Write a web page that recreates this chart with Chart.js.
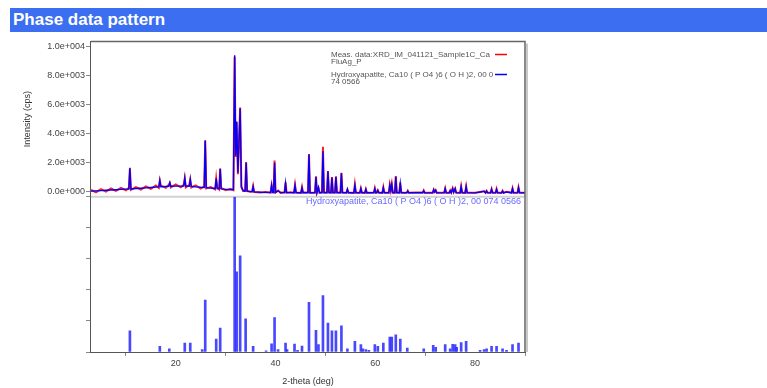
<!DOCTYPE html>
<html>
<head>
<meta charset="utf-8">
<script src="https://cdn.jsdelivr.net/npm/chart.js@4.4.0/dist/chart.umd.min.js"></script>
<style>
  body { margin: 0; background: #fff; font-family: "Liberation Sans", Arial, sans-serif; }
  #wrap { position: relative; width: 767px; height: 388px; overflow: hidden; }
  #title { position: absolute; left: 10px; top: 8px; right: 0; height: 24px; background: #3b6ef1;
           color: #fff; font-weight: bold; font-size: 17px; line-height: 24px; padding-left: 3px; }
  canvas { position: absolute; left: 0; top: 0; }
</style>
</head>
<body>
<div id="wrap">
  <canvas id="xrd" width="767" height="388"></canvas>
  <div id="title">Phase data pattern</div>
</div>
<script>
const profileTheta = [
  3.0, 4.0, 5.0, 6.0, 7.0, 8.0, 9.0, 10.0, 10.6, 10.8,
  11.0, 12.0, 13.0, 14.0, 15.0, 16.0, 16.6, 16.8, 17.0, 18.0,
  18.6, 18.8, 19.0, 20.0, 21.0, 21.6, 21.8, 22.0, 22.7, 22.9,
  23.1, 24.0, 25.0, 25.7, 25.9, 26.1, 27.0, 27.9, 28.1, 28.3,
  28.7, 28.9, 29.1, 30.0, 31.0, 31.55, 31.8, 32.0, 32.2, 32.45,
  32.9, 33.15, 33.5, 33.9, 34.1, 34.3, 35.0, 35.3, 35.5, 35.7,
  37.0, 38.0, 39.0, 39.2, 39.4, 39.6, 39.8, 40.0, 40.5, 41.0,
  41.8, 42.0, 42.2, 43.0, 43.7, 43.9, 44.1, 45.1, 45.3, 45.5,
  46.5, 46.7, 46.9, 47.9, 48.1, 48.3, 48.6, 48.8, 49.3, 49.5,
  49.7, 50.3, 50.5, 50.7, 51.1, 51.3, 51.5, 51.9, 52.1, 52.3,
  53.0, 53.2, 53.4, 54.2, 54.4, 54.6, 55.7, 55.9, 56.1, 56.9,
  57.1, 57.3, 57.9, 58.1, 58.3, 59.7, 59.9, 60.1, 60.3, 60.5,
  60.7, 61.4, 61.6, 61.8, 62.7, 62.9, 63.1, 63.3, 63.5, 63.9,
  64.1, 64.3, 64.8, 65.0, 65.2, 66.3, 66.5, 66.7, 68.0, 69.5,
  69.7, 69.9, 71.5, 71.7, 71.9, 72.1, 72.3, 73.8, 74.0, 74.2,
  74.8, 75.0, 75.2, 75.5, 75.7, 76.0, 76.2, 77.0, 77.2, 77.4,
  78.0, 78.2, 78.4, 80.0, 81.0, 81.8, 82.1, 82.3, 82.5, 83.1,
  83.3, 83.5, 84.1, 84.3, 84.5, 85.3, 85.5, 85.7, 86.3, 87.3,
  87.5, 87.7, 88.5, 88.7, 88.9, 90.0
];
const measCounts = [
  130, -40, 170, 0, 220, 50, 260, 100, 260, 1600,
  120, 320, 150, 370, 200, 420, 260, 760, 420, 260,
  480, 600, 290, 500, 300, 470, 920, 290, 460, 830,
  280, 430, 220, 370, 3500, 220, 320, 160, 900, 280,
  150, 1600, 250, 100, 200, 100, 9300, 2400, 4800, 1200,
  5800, 300, 60, 80, 2050, 40, 0, 20, 380, -20,
  -60, -20, -70, 420, -30, -40, 2150, -50, 80, -80,
  -40, 650, -70, -40, -70, 460, -50, -80, 300, -60,
  -40, 2600, -70, -60, 1050, -40, 250, -60, -40, 3090,
  -50, -60, 1400, -40, -60, 1000, -50, -60, 1050, -50,
  -60, 1300, -50, -70, 150, -60, -80, 500, -60, -70,
  230, -60, -80, 170, -70, -60, 240, -70, -50, 100,
  -60, -80, 300, -60, -70, 480, 100, 520, -60, -70,
  1080, -50, -70, 620, -60, -80, 60, -70, -50, -60,
  80, -80, -70, 150, 0, 100, -70, -60, 230, -70,
  -80, 80, -60, 230, -20, 210, -60, -70, 370, -60,
  -80, 360, -60, -70, -20, 40, -70, 60, -60, -70,
  180, -60, -70, 190, -60, -80, 60, -70, 0, -60,
  230, -70, -60, 300, -60, -70
];
const calcCounts = [
  40, 55, 75, 95, 115, 135, 155, 175, 185, 1650,
  190, 215, 240, 265, 290, 315, 330, 780, 335, 355,
  365, 625, 370, 380, 380, 380, 940, 378, 372, 850,
  370, 330, 300, 285, 3540, 280, 245, 215, 920, 210,
  195, 1580, 190, 160, 130, 150, 9410, 2500, 4840, 1300,
  5750, 350, 60, 40, 1990, 30, 0, -10, 350, -15,
  -40, -50, -55, 440, -55, -55, 1990, -60, 60, -65,
  -65, 600, -65, -68, -70, 440, -70, -70, 280, -72,
  -72, 2560, -72, -73, 1030, -73, 300, -74, -74, 2790,
  -74, -74, 1420, -75, -75, 965, -75, -75, 1030, -75,
  -76, 1260, -76, -76, 160, -76, -76, 440, -76, -77,
  210, -77, -77, 160, -77, -78, 210, -78, -78, 80,
  -78, -78, 280, -78, -78, 450, 80, 500, -78, -78,
  1030, -78, -78, 575, -78, -79, 40, -79, -79, -79,
  60, -79, -80, 120, -20, 90, -80, -80, 210, -80,
  -80, 60, -80, 210, -40, 200, -80, -80, 350, -80,
  -80, 350, -80, -80, -20, 20, -80, 40, -80, -80,
  160, -80, -80, 160, -80, -80, 40, -80, -20, -80,
  210, -80, -80, 280, -80, -78
];

// reference pattern sticks (relative intensity %)
const refTheta = [
  10.8, 16.8, 18.7, 21.8, 22.9, 25.3, 25.9, 28.1, 28.9, 31.8,
  32.2, 32.9, 34.0, 35.5, 38.1, 39.2, 39.8, 40.5, 42.0, 42.3,
  43.8, 44.4, 45.3, 46.7, 48.1, 48.6, 49.5, 50.5, 51.3, 52.1,
  53.2, 54.4, 55.9, 57.1, 57.5, 58.1, 58.7, 59.9, 60.5, 61.6,
  62.9, 63.3, 64.1, 65.0, 66.4, 69.7, 71.6, 72.1, 74.0, 75.0,
  75.5, 76.0, 76.3, 77.2, 78.2, 81.0, 81.8, 82.3, 83.3, 84.3,
  85.5, 86.3, 87.5, 88.7
];
const refIntensity = [
  13.7, 3.6, 2.0, 5.8, 5.8, 1.5, 33.5, 8.3, 15.4, 100,
  51.7, 62, 21.4, 3.6, 0.8, 5.3, 22.2, 1.5, 5.8, 1.5,
  5.1, 1.0, 3.8, 32, 14, 4.7, 36.3, 18.6, 13.7, 13.7,
  16.9, 2.0, 6.8, 4.7, 2.0, 1.5, 1.0, 4.7, 3.6, 5.8,
  9.6, 9.6, 11, 8.3, 2.5, 2.1, 4.3, 3.0, 4.7, 2.0,
  5.0, 4.7, 3.0, 6.0, 6.8, 1.0, 1.5, 2.0, 3.6, 3.6,
  2.0, 1.0, 4.7, 5.8
];

// tick values
const thetaTicks = [20, 40, 60, 80];
const countTicks = [0, 2000, 4000, 6000, 8000, 10000];
const refTicks = [0, 20, 40, 60, 80, 100];

const measLegend = ['Meas. data:XRD_IM_041121_Sample1C_Ca', 'FluAg_P'];
const calcLegend = ['Hydroxyapatite, Ca10 ( P O4 )6 ( O H )2, 00 0', '74 0566'];
const phaseLabel = 'Hydroxyapatite, Ca10 ( P O4 )6 ( O H )2, 00 074 0566';

Chart.defaults.font.family = '"Liberation Sans", Arial, sans-serif';

// 1.0e+004 style labels
function sci(v) {
  const parts = Number(v).toExponential(1).split('e');
  const e = +parts[1];
  return parts[0] + 'e' + (e < 0 ? '-' : '+') + String(Math.abs(e)).padStart(3, '0');
}

function fixedTicks(values) {
  return scale => { scale.ticks = values.map(v => ({ value: v })); };
}

const framePlugin = {
  id: 'frame',
  beforeDatasetsDraw(chart) {
    const { ctx, chartArea: a, scales } = chart;
    const sep = scales.y.bottom;
    ctx.save();
    ctx.strokeStyle = '#d2d2d2';
    ctx.lineWidth = 2;
    ctx.beginPath();
    ctx.moveTo(a.left, sep);
    ctx.lineTo(a.right, sep);
    ctx.stroke();
    ctx.restore();
  },
  afterDraw(chart) {
    const { ctx, chartArea: a, scales } = chart;
    const sep = scales.y.bottom;
    ctx.save();
    // top and right frame
    ctx.strokeStyle = '#666';
    ctx.lineWidth = 1.5;
    ctx.beginPath();
    ctx.moveTo(a.left, a.top);
    ctx.lineTo(a.right, a.top);
    ctx.lineTo(a.right, a.bottom);
    ctx.stroke();
    ctx.strokeStyle = '#c8c8c8';
    ctx.lineWidth = 2;
    ctx.beginPath();
    ctx.moveTo(a.right + 2, a.top + 2);
    ctx.lineTo(a.right + 2, a.bottom);
    ctx.stroke();

    // phase name under the separator
    ctx.font = '9px "Liberation Sans", Arial, sans-serif';
    ctx.fillStyle = '#6a6aff';
    ctx.textAlign = 'right';
    ctx.textBaseline = 'middle';
    ctx.fillText(phaseLabel, a.right - 4, sep + 5);

    // legend in the upper right
    const tx = a.left + 240;
    const entries = [[measLegend, '#ff0000', a.top + 13], [calcLegend, '#0000ff', a.top + 33]];
    ctx.font = '8px "Liberation Sans", Arial, sans-serif';
    ctx.textAlign = 'left';
    ctx.fillStyle = '#555';
    entries.forEach(([lines, color, y]) => {
      lines.forEach((t, i) => ctx.fillText(t, tx, y + i * 7));
      ctx.strokeStyle = color;
      ctx.lineWidth = 1.5;
      ctx.beginPath();
      ctx.moveTo(a.right - 30, y);
      ctx.lineTo(a.right - 18, y);
      ctx.stroke();
    });
    ctx.restore();
  }
};

const tickGrid = { drawOnChartArea: false, tickLength: 5, color: '#888' };

new Chart(document.getElementById('xrd'), {
  type: 'line',
  data: {
    datasets: [
      {
        label: calcLegend.join(''),
        data: profileTheta.map((t, i) => ({ x: t, y: calcCounts[i] })),
        yAxisID: 'y',
        borderColor: '#0000ff',
        borderWidth: 1.4,
        pointRadius: 0,
        tension: 0
      },
      {
        label: measLegend.join(''),
        data: profileTheta.map((t, i) => ({ x: t, y: measCounts[i] })),
        yAxisID: 'y',
        borderColor: '#ff2020',
        borderWidth: 2,
        pointRadius: 0,
        tension: 0
      },
      {
        type: 'bar',
        label: phaseLabel,
        data: refTheta.map((t, i) => ({ x: t, y: refIntensity[i] })),
        yAxisID: 'yRef',
        backgroundColor: 'rgba(40,40,255,0.85)',
        borderWidth: 0,
        barThickness: 2
      }
    ]
  },
  options: {
    responsive: false,
    animation: false,
    events: [],
    layout: { padding: { left: 22.6, top: 41.5, right: 242, bottom: 0 } },
    plugins: { legend: { display: false }, tooltip: { enabled: false } },
    scales: {
      x: {
        type: 'linear',
        min: 3,
        max: 90,
        offset: false,
        afterBuildTicks: fixedTicks(thetaTicks),
        border: { color: '#555' },
        grid: { drawOnChartArea: false, tickLength: 4, color: '#888' },
        ticks: { padding: 2, color: '#444', font: { size: 9 }, maxRotation: 0 },
        title: { display: true, text: '2-theta (deg)', color: '#333', font: { size: 9 }, padding: { top: 5.8, bottom: 0.6 } }
      },
      yRef: {
        type: 'linear',
        position: 'left',
        stack: 'panels',
        stackWeight: 1,
        min: 0,
        max: 100,
        afterBuildTicks: fixedTicks(refTicks),
        border: { color: '#555' },
        grid: tickGrid,
        ticks: { display: false }
      },
      y: {
        type: 'linear',
        position: 'left',
        stack: 'panels',
        stackWeight: 1,
        min: -350,
        max: 10350,
        afterBuildTicks: fixedTicks(countTicks),
        border: { color: '#555' },
        grid: tickGrid,
        ticks: { padding: 1, color: '#444', font: { size: 9 }, callback: sci },
        title: { display: true, text: 'Intensity (cps)', color: '#333', font: { size: 9 }, padding: { top: 0, bottom: 12.8 } }
      }
    }
  },
  plugins: [framePlugin]
});
</script>
</body>
</html>
